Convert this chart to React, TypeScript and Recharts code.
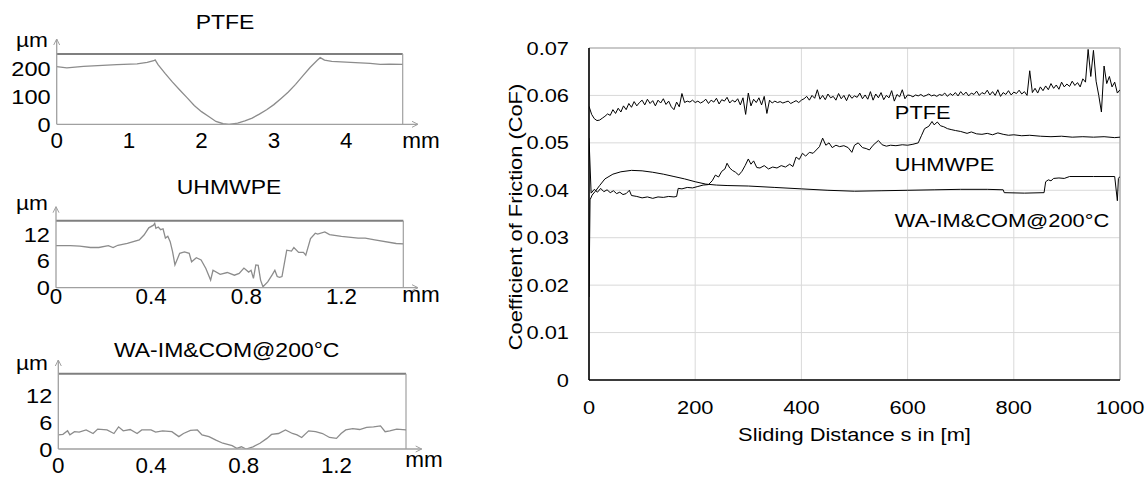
import React from 'react';
import { LineChart, Line, XAxis, YAxis, CartesianGrid, ReferenceLine, ReferenceDot } from 'recharts';

const FONT = '"Liberation Sans", Arial, sans-serif';

// ---------- Right chart: coefficient of friction ----------
const cofXTicks = [0, 200, 400, 600, 800, 1000];
const cofYTicks = [0, 0.01, 0.02, 0.03, 0.04, 0.05, 0.06, 0.07];

const ptfeDist = Array.from({ length: 201 }, (_, i) => i * 5);
const ptfeCoF = [
  0.0577, 0.0560, 0.0551, 0.0547, 0.0548, 0.0552, 0.0556, 0.0561, 0.0558, 0.0570,
  0.0562, 0.0573, 0.0565, 0.0578, 0.0570, 0.0583, 0.0575, 0.0587, 0.0578, 0.0585,
  0.0590, 0.0580, 0.0592, 0.0583, 0.0589, 0.0578, 0.0590, 0.0584, 0.0593, 0.0581,
  0.0588, 0.0576, 0.0570, 0.0586, 0.0576, 0.0604, 0.0585, 0.0588, 0.0586, 0.0590,
  0.0585, 0.0588, 0.0584, 0.0587, 0.0592, 0.0583, 0.0590, 0.0586, 0.0594, 0.0582,
  0.0591, 0.0588, 0.0596, 0.0584, 0.0590, 0.0586, 0.0593, 0.0580, 0.0595, 0.0560,
  0.0605, 0.0578, 0.0592, 0.0585, 0.0595, 0.0580, 0.0598, 0.0562, 0.0590, 0.0584,
  0.0588, 0.0585, 0.0587, 0.0584, 0.0586, 0.0588, 0.0583, 0.0586, 0.0589, 0.0585,
  0.0590, 0.0593, 0.0598, 0.0590, 0.0600, 0.0594, 0.0612, 0.0592, 0.0600, 0.0591,
  0.0603, 0.0595, 0.0598, 0.0590, 0.0604, 0.0593, 0.0600, 0.0589, 0.0602, 0.0594,
  0.0599, 0.0596, 0.0605, 0.0593, 0.0601, 0.0592, 0.0608, 0.0590, 0.0603, 0.0595,
  0.0606, 0.0591, 0.0600, 0.0595, 0.0610, 0.0588, 0.0602, 0.0597, 0.0612, 0.0593,
  0.0601, 0.0600, 0.0597, 0.0601, 0.0599, 0.0602, 0.0598, 0.0600, 0.0603, 0.0599,
  0.0601, 0.0598, 0.0602, 0.0600, 0.0605, 0.0598, 0.0604, 0.0600, 0.0606, 0.0599,
  0.0608, 0.0601, 0.0607, 0.0599, 0.0605, 0.0602, 0.0609, 0.0600, 0.0606, 0.0603,
  0.0611, 0.0601, 0.0608, 0.0600, 0.0612, 0.0598, 0.0606, 0.0602, 0.0610, 0.0601,
  0.0607, 0.0604, 0.0611, 0.0603, 0.0608, 0.0600, 0.0652, 0.0606, 0.0615, 0.0605,
  0.0618, 0.0610, 0.0620, 0.0612, 0.0625, 0.0615, 0.0622, 0.0613, 0.0628, 0.0618,
  0.0624, 0.0619, 0.0630, 0.0621, 0.0627, 0.0618, 0.0635, 0.0628, 0.0697, 0.0640,
  0.0695, 0.0630, 0.0600, 0.0565, 0.0662, 0.0625, 0.0640, 0.0618, 0.0628, 0.0605,
  0.0612,
];

const uhmwDist = [
  0, 4, 10, 16, 22, 28, 34, 40, 46, 52,
  58, 64, 70, 76, 80, 90, 100, 110, 120, 130,
  140, 150, 160, 165, 168, 175, 185, 195, 205, 215,
  225, 232, 238, 244, 250, 256, 260, 265, 270, 276,
  282, 288, 294, 300, 305, 310, 316, 322, 330, 338,
  346, 354, 362, 370, 378, 384, 390, 396, 402, 408,
  415, 422, 428, 434, 440, 446, 452, 458, 465, 472,
  480, 488, 495, 500, 507, 515, 522, 528, 535, 545,
  552, 560, 568, 578, 590, 600, 610, 620, 626, 632,
  640, 646, 650, 656, 662, 668, 675, 682, 690, 700,
  712, 720, 730, 740, 750, 760, 770, 780, 790, 800,
  815, 830, 850, 870, 890, 910, 930, 950, 970, 990,
  1000,
];
const uhmwCoF = [
  0.0510, 0.0394, 0.0402, 0.0396, 0.0404, 0.0397, 0.0401, 0.0395, 0.0399, 0.0393,
  0.0396, 0.0391, 0.0393, 0.0400, 0.0389, 0.0387, 0.0384, 0.0386, 0.0383, 0.0386,
  0.0385, 0.0387, 0.0386, 0.0387, 0.0404, 0.0403, 0.0406, 0.0405, 0.0408, 0.0411,
  0.0412, 0.0420, 0.0432, 0.0428, 0.0440, 0.0445, 0.0457, 0.0447, 0.0442, 0.0438,
  0.0432, 0.0440, 0.0452, 0.0466, 0.0455, 0.0462, 0.0448, 0.0447, 0.0452, 0.0445,
  0.0449, 0.0447, 0.0452, 0.0449, 0.0455, 0.0450, 0.0470, 0.0465, 0.0478, 0.0472,
  0.0480, 0.0478, 0.0485, 0.0492, 0.0510, 0.0495, 0.0500, 0.0490, 0.0495, 0.0492,
  0.0494, 0.0490, 0.0480, 0.0495, 0.0500, 0.0490, 0.0488, 0.0485, 0.0495, 0.0505,
  0.0496, 0.0493, 0.0495, 0.0494, 0.0496, 0.0495, 0.0497, 0.0500, 0.0515, 0.0530,
  0.0535, 0.0545, 0.0538, 0.0544, 0.0536, 0.0534, 0.0530, 0.0528, 0.0526, 0.0524,
  0.0520, 0.0523, 0.0519, 0.0518, 0.0520, 0.0517, 0.0521, 0.0518, 0.0516, 0.0517,
  0.0515, 0.0516, 0.0514, 0.0513, 0.0514, 0.0512, 0.0513, 0.0512, 0.0513, 0.0511,
  0.0512,
];

const waDist = [
  0, 2, 6, 12, 20, 30, 45, 60, 80, 100,
  120, 140, 160, 180, 200, 220, 240, 260, 300, 350,
  400, 450, 500, 550, 600, 650, 700, 750, 780, 782,
  820, 857, 860, 865, 870, 875, 885, 895, 905, 950,
  990, 995, 997, 1000,
];
const waCoF = [
  0.0175, 0.0380, 0.0390, 0.0398, 0.0410, 0.0424, 0.0434, 0.0439, 0.0442, 0.0441,
  0.0438, 0.0434, 0.0429, 0.0424, 0.0418, 0.0413, 0.0411, 0.0410, 0.0409, 0.0406,
  0.0403, 0.0400, 0.0398, 0.0399, 0.0400, 0.0401, 0.0402, 0.0402, 0.0401, 0.0395,
  0.0394, 0.0395, 0.0418, 0.0422, 0.0420, 0.0425, 0.0426, 0.0425, 0.0429, 0.0429,
  0.0429, 0.0378, 0.0425, 0.0429,
];

const seriesLabels = [
  { text: 'PTFE', x: 576, y: 0.0550 },
  { text: 'UHMWPE', x: 576, y: 0.0441 },
  { text: 'WA-IM&COM@200°C', x: 576, y: 0.0323 },
];

// ---------- Left: surface profiles ----------
const ptfeProfX = [0, 0.14, 0.37, 0.83, 1.11, 1.25, 1.34, 1.36, 1.40, 1.5, 1.6, 1.7, 1.8, 1.9, 2.0, 2.1, 2.2, 2.3, 2.38, 2.5, 2.6, 2.7, 2.8, 2.9, 3.0, 3.1, 3.2, 3.3, 3.4, 3.5, 3.6, 3.64, 3.7, 3.8, 4.06, 4.33, 4.47, 4.6, 4.78];
const ptfeProfZ = [205, 201, 206, 212, 215, 220, 226, 229, 212, 180, 150, 122, 95, 67, 45, 28, 10, 2, 0, 4, 12, 22, 36, 52, 70, 92, 115, 142, 172, 202, 228, 237, 228, 224, 220, 217, 213, 214, 213];

const uhmwProfX = [0, 0.06, 0.10, 0.145, 0.18, 0.22, 0.24, 0.26, 0.30, 0.35, 0.37, 0.39, 0.41, 0.415, 0.42, 0.43, 0.44, 0.45, 0.46, 0.47, 0.48, 0.49, 0.50, 0.52, 0.54, 0.56, 0.57, 0.59, 0.61, 0.63, 0.65, 0.66, 0.69, 0.72, 0.75, 0.77, 0.79, 0.81, 0.82, 0.83, 0.84, 0.85, 0.86, 0.87, 0.89, 0.91, 0.92, 0.93, 0.94, 0.95, 0.97, 0.99, 1.00, 1.02, 1.04, 1.05, 1.07, 1.09, 1.10, 1.13, 1.15, 1.20, 1.27, 1.30, 1.34, 1.43, 1.46];
const uhmwProfZ = [9.4, 9.4, 9.3, 9.0, 9.0, 9.4, 9.0, 9.5, 9.9, 10.7, 11.8, 13.4, 14.0, 14.4, 13.3, 13.6, 13.0, 13.2, 11.1, 11.5, 10.3, 8.1, 5.1, 7.7, 8.0, 7.7, 5.8, 6.7, 6.2, 4.3, 1.7, 3.9, 3.0, 3.4, 2.8, 3.2, 4.4, 3.5, 3.9, 2.1, 5.1, 5.0, 1.7, 0.2, 1.3, 3.0, 3.9, 2.5, 2.3, 2.5, 8.4, 8.2, 9.0, 7.9, 7.9, 7.3, 11.0, 12.2, 12.0, 12.5, 11.9, 11.5, 11.1, 11.1, 10.7, 9.9, 9.8];

const waProfX = [0, 0.02, 0.04, 0.05, 0.07, 0.09, 0.12, 0.15, 0.17, 0.21, 0.24, 0.26, 0.28, 0.31, 0.34, 0.36, 0.40, 0.42, 0.45, 0.49, 0.52, 0.54, 0.57, 0.60, 0.62, 0.65, 0.68, 0.71, 0.75, 0.77, 0.79, 0.81, 0.84, 0.87, 0.90, 0.92, 0.95, 0.98, 1.01, 1.03, 1.05, 1.08, 1.11, 1.14, 1.17, 1.20, 1.22, 1.24, 1.27, 1.30, 1.33, 1.36, 1.39, 1.41, 1.43, 1.46, 1.50];
const waProfZ = [3.2, 3.3, 4.1, 3.2, 3.9, 3.8, 4.3, 3.5, 4.5, 4.3, 3.5, 5.0, 4.1, 4.4, 3.5, 4.3, 4.3, 3.8, 4.1, 3.9, 2.8, 3.5, 4.2, 4.3, 3.2, 2.8, 2.0, 1.3, 0.75, 0.15, 0.5, 0, 0.5, 1.3, 2.4, 3.3, 3.5, 4.3, 3.5, 3.2, 2.6, 4.1, 3.9, 3.5, 2.6, 2.4, 3.5, 4.3, 4.6, 4.4, 4.9, 5.0, 5.2, 3.9, 4.1, 4.5, 4.3];

const ptfeXTicks = [0, 1, 2, 3, 4];
const ptfeZTicks = [0, 100, 200];
const smallXTicks = [0, 0.4, 0.8, 1.2];
const smallZTicks = [0, 6, 12];

const zip = (xs: number[], ys: number[]) => xs.map((x, i) => ({ x, v: ys[i] }));

// ---------- helpers ----------
function SText({ x, y, text, size, sx = 1, anchor = 'start', rotate = 0, fill = '#000' }: any) {
  return (
    <g transform={`translate(${x},${y})${rotate ? ` rotate(${rotate})` : ''}`}>
      <text transform={`scale(${sx},1)`} textAnchor={anchor} fontSize={size} fontFamily={FONT} fill={fill}>
        {text}
      </text>
    </g>
  );
}

const GREY_LINE = '#8c8c8c';
const GREY_AXIS = '#a0a0a0';

type PanelCfg = {
  title: string;
  top: number;
  height: number;
  plotLeft: number;
  plotRight: number;
  plotTop: number;
  plotBottom: number;
  xMax: number;
  zMax: number;
  xTicks: number[];
  zTicks: number[];
  data: { x: number; v: number }[];
  xLabelDy: number;
  titleX: number;
  titleY: number;
  umY: number;
  arrowTopY: number;
  arrowRightX: number;
  mmX: number;
  mmY: number;
};

function Panel({ c }: { c: PanelCfg }) {
  const W = 460;
  const xt = (p: any) => (
    <SText x={p.x} y={p.y + c.xLabelDy} text={String(p.payload.value)} size={21.5} sx={1.04} anchor="middle" />
  );
  const yt = (p: any) => (
    <SText x={p.x} y={p.y + 7.5} text={String(p.payload.value)} size={20} sx={1.18} anchor="end" />
  );
  const lb = c.plotBottom - c.top;
  const ll = c.plotLeft;
  return (
    <div style={{ position: 'absolute', left: 0, top: c.top, width: W, height: c.height }}>
      <LineChart
        width={W}
        height={c.height}
        margin={{ top: c.plotTop - c.top, right: W - c.plotRight, left: 0, bottom: 0 }}
      >
        <XAxis
          type="number"
          dataKey="x"
          domain={[0, c.xMax]}
          ticks={c.xTicks}
          height={c.top + c.height - c.plotBottom}
          tickSize={0}
          tickMargin={0}
          tickLine={false}
          axisLine={false}
          tick={xt}
          allowDataOverflow
        />
        <YAxis
          type="number"
          domain={[0, c.zMax]}
          ticks={c.zTicks}
          width={c.plotLeft}
          tickSize={0}
          tickMargin={6}
          tickLine={false}
          axisLine={false}
          tick={yt}
          allowDataOverflow
        />
        <ReferenceLine y={c.zMax} stroke="#7f7f7f" strokeWidth={2} />
        <ReferenceLine x={c.xMax} stroke={GREY_AXIS} strokeWidth={1.2} />
        <Line
          data={c.data}
          dataKey="v"
          type="linear"
          stroke={GREY_LINE}
          strokeWidth={1.3}
          dot={false}
          isAnimationActive={false}
        />
      </LineChart>
      <svg width={W} height={c.height} style={{ position: 'absolute', left: 0, top: 0, pointerEvents: 'none' }}>
        <line x1={ll} y1={lb} x2={ll} y2={c.arrowTopY - c.top} stroke={GREY_AXIS} strokeWidth={1.3} />
        <polyline
          points={`${ll - 3},${c.arrowTopY - c.top + 6} ${ll},${c.arrowTopY - c.top} ${ll + 3},${c.arrowTopY - c.top + 6}`}
          fill="none"
          stroke={GREY_AXIS}
          strokeWidth={1}
        />
        <line x1={ll} y1={lb} x2={c.arrowRightX} y2={lb} stroke={GREY_AXIS} strokeWidth={1.3} />
        <polyline
          points={`${c.arrowRightX - 6},${lb - 3} ${c.arrowRightX},${lb} ${c.arrowRightX - 6},${lb + 3}`}
          fill="none"
          stroke={GREY_AXIS}
          strokeWidth={1}
        />
        <SText x={c.titleX} y={c.titleY - c.top} text={c.title} size={20.5} sx={1.12} anchor="middle" />
        <SText x={32} y={c.umY - c.top} text="µm" size={21} sx={1.08} anchor="middle" />
        <SText x={c.mmX} y={c.mmY - c.top} text="mm" size={22.5} sx={1.0} anchor="middle" />
      </svg>
    </div>
  );
}

const panels: PanelCfg[] = [
  {
    title: 'PTFE', top: 0, height: 160, plotLeft: 56.7, plotRight: 402.7, plotTop: 54, plotBottom: 124.3,
    xMax: 4.78, zMax: 250, xTicks: ptfeXTicks, zTicks: ptfeZTicks, data: zip(ptfeProfX, ptfeProfZ),
    xLabelDy: 23.5, titleX: 225, titleY: 29.3, umY: 46.7, arrowTopY: 39, arrowRightX: 418, mmX: 421, mmY: 148,
  },
  {
    title: 'UHMWPE', top: 160, height: 150, plotLeft: 56, plotRight: 403.3, plotTop: 220.7, plotBottom: 287.7,
    xMax: 1.46, zMax: 15, xTicks: smallXTicks, zTicks: smallZTicks, data: zip(uhmwProfX, uhmwProfZ),
    xLabelDy: 16.5, titleX: 229, titleY: 194.3, umY: 210, arrowTopY: 206.7, arrowRightX: 418, mmX: 421, mmY: 301.7,
  },
  {
    title: 'WA-IM&COM@200°C', top: 310, height: 170, plotLeft: 58.3, plotRight: 406, plotTop: 373.7, plotBottom: 449,
    xMax: 1.5, zMax: 17, xTicks: smallXTicks, zTicks: smallZTicks, data: zip(waProfX, waProfZ),
    xLabelDy: 23.5, titleX: 226.7, titleY: 356.7, umY: 370, arrowTopY: 360, arrowRightX: 421.7, mmX: 424, mmY: 467,
  },
];

function CofChart() {
  const ptfe = zip(ptfeDist, ptfeCoF);
  const uhmw = zip(uhmwDist, uhmwCoF);
  const wa = zip(waDist, waCoF);
  const xt = (p: any) => (
    <SText x={p.x} y={p.y + 34} text={String(p.payload.value)} size={18.5} sx={1.18} anchor="middle" />
  );
  const yt = (p: any) => (
    <SText x={p.x} y={p.y + 6.6} text={String(p.payload.value)} size={18.5} sx={1.18} anchor="end" />
  );
  return (
    <div style={{ position: 'absolute', left: 480, top: 0, width: 668, height: 480 }}>
      <LineChart width={668} height={480} margin={{ top: 48, right: 28, left: 0, bottom: 0 }}>
        <CartesianGrid stroke="#d9d9d9" strokeWidth={1} />
        <XAxis
          type="number"
          dataKey="x"
          domain={[0, 1000]}
          ticks={cofXTicks}
          height={100}
          tickSize={0}
          tickMargin={0}
          tickLine={false}
          axisLine={{ stroke: '#000', strokeWidth: 1.6 }}
          tick={xt}
          allowDataOverflow
        />
        <YAxis
          type="number"
          domain={[0, 0.07]}
          ticks={cofYTicks}
          width={109}
          tickSize={0}
          tickMargin={20}
          tickLine={false}
          axisLine={{ stroke: '#000', strokeWidth: 1.6 }}
          tick={yt}
          allowDataOverflow
        />
        <ReferenceLine y={0.07} stroke="#a6a6a6" strokeWidth={1.2} />
        <ReferenceLine x={1000} stroke="#a6a6a6" strokeWidth={1.2} />
        <Line data={wa} dataKey="v" type="linear" stroke="#000" strokeWidth={1} dot={false} isAnimationActive={false} />
        <Line data={uhmw} dataKey="v" type="linear" stroke="#000" strokeWidth={1} dot={false} isAnimationActive={false} />
        <Line data={ptfe} dataKey="v" type="linear" stroke="#000" strokeWidth={1} dot={false} isAnimationActive={false} />
        {seriesLabels.map((l) => (
          <ReferenceDot
            key={l.text}
            x={l.x}
            y={l.y}
            r={0}
            fill="none"
            stroke="none"
            label={(p: any) => (
              <SText x={p.viewBox.x} y={p.viewBox.y} text={l.text} size={18.5} sx={1.18} anchor="start" />
            )}
          />
        ))}
      </LineChart>
      <svg width={668} height={480} style={{ position: 'absolute', left: 0, top: 0, pointerEvents: 'none' }}>
        <SText x={374.5} y={441} text="Sliding Distance s in [m]" size={18.5} sx={1.18} anchor="middle" />
        <SText x={41.6} y={217} text="Coefficient of Friction (CoF)" size={18.5} sx={1.18} anchor="middle" rotate={-90} />
      </svg>
    </div>
  );
}

export default function App() {
  return (
    <div style={{ position: 'absolute', left: 0, top: 0, width: 1148, height: 480, background: '#fff', overflow: 'hidden' }}>
      {panels.map((c) => (
        <Panel key={c.title} c={c} />
      ))}
      <CofChart />
    </div>
  );
}
